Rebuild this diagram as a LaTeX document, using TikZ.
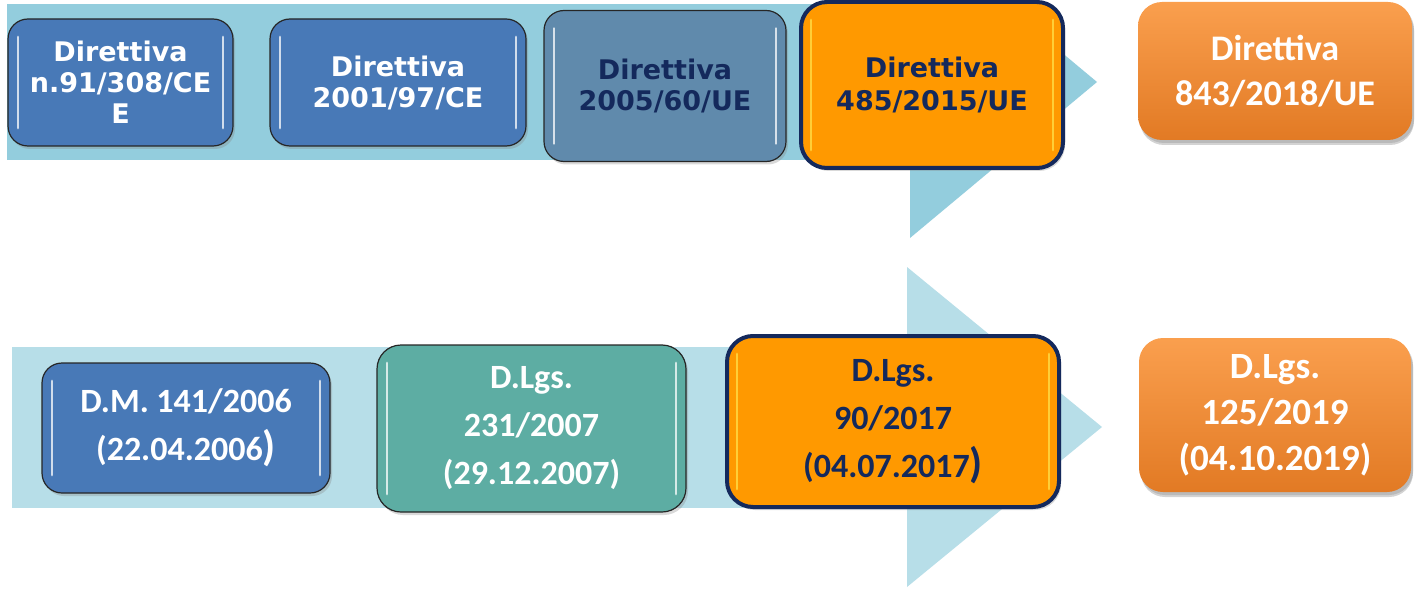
\documentclass[tikz,border=0pt]{standalone}
\usepackage{fontspec}
\usepackage{xcolor}
\usepackage{tikz}
\usetikzlibrary{shadows, positioning}

\newfontfamily\verdfont{DejaVu Sans}
\newfontfamily\calfont{Carlito}
\newcommand{\dirfont}{\verdfont\bfseries\fontsize{13.5}{15.5}\selectfont}
\newcommand{\bigdirfont}{\calfont\bfseries\fontsize{18}{22.5}\selectfont}
\newcommand{\lgsfont}{\calfont\bfseries\fontsize{17}{24}\selectfont}
\newcommand{\biglgsfont}{\calfont\bfseries\fontsize{18.5}{23}\selectfont}
\newcommand{\bigpar}{{\fontsize{21}{21}\selectfont)}}

\definecolor{bandtop}{HTML}{93CDDD}
\definecolor{bandbot}{HTML}{B7DEE8}
\definecolor{blu}{HTML}{4879B7}
\definecolor{grigioblu}{HTML}{608AAC}
\definecolor{arancio}{HTML}{FF9900}
\definecolor{navy}{HTML}{14295C}
\definecolor{verdeacqua}{HTML}{5DADA3}
\definecolor{aranciochiaro}{HTML}{FA9F4E}
\definecolor{arancioscuro}{HTML}{E27A24}
\definecolor{giallo}{HTML}{FFE04A}

\begin{document}
\begin{tikzpicture}[x=0.5pt, y=-0.5pt,
    box/.style={rounded corners=10pt, draw=black!85, line width=0.6pt,
        align=center, inner sep=0pt,
        drop shadow={opacity=.3, shadow xshift=1pt, shadow yshift=-1.5pt}},
    gloss/.style={path picture={
        \draw[#1, line width=1.4pt, line cap=round, opacity=.75]
            ([xshift=5pt, yshift=-9pt]path picture bounding box.north west) --
            ([xshift=5pt, yshift=9pt]path picture bounding box.south west);
        \draw[#1, line width=1.4pt, line cap=round, opacity=.75]
            ([xshift=-5pt, yshift=-9pt]path picture bounding box.north east) --
            ([xshift=-5pt, yshift=9pt]path picture bounding box.south east);}},
    evidenza/.style={box, fill=arancio, draw=navy, line width=2pt,
        rounded corners=13pt, text=navy, gloss=giallo},
    finale/.style={box, draw=none, rounded corners=12pt, text=white,
        top color=aranciochiaro, bottom color=arancioscuro,
        drop shadow={opacity=.35, shadow xshift=1pt, shadow yshift=-2.5pt}}]

    \useasboundingbox (0,0) rectangle (1416,588);
    \clip (0,0) rectangle (1416,588);

    % 1. Frecce di sfondo
    \fill[bandtop] (7,4) rectangle (910,160);
    \fill[bandtop] (910,-74) -- (1097,82) -- (910,238) -- cycle;
    \fill[bandbot] (12,347) rectangle (907,508);
    \fill[bandbot] (907,267) -- (1102,427) -- (907,587) -- cycle;

    % 2. Direttive europee (riga in alto)
    \node[box, fill=blu, text=white, gloss=white, font=\dirfont,
        minimum width=112.5pt, minimum height=63.5pt] (dir91) at (120.5,82.5)
        {Direttiva\\n.91/308/CE\\E};
    \node[box, fill=blu, text=white, gloss=white, font=\dirfont,
        minimum width=128pt, minimum height=63.5pt] (dir2001) at (398,82.5)
        {Direttiva\\2001/97/CE};
    \node[box, fill=grigioblu, text=navy, gloss=white, font=\dirfont,
        minimum width=121pt, minimum height=75.5pt] (dir2005) at (665,86)
        {Direttiva\\2005/60/UE};
    \node[evidenza, font=\dirfont, align=center,
        minimum width=131pt, minimum height=83pt] (dir2015) at (932,85)
        {Direttiva\\[1pt]485/2015/UE};
    \node[finale, font=\bigdirfont,
        minimum width=137pt, minimum height=69pt] (dir2018) at (1275,71)
        {Direttiva\\843/2018/UE};

    % 3. Recepimento nazionale (riga in basso)
    \node[box, fill=blu, text=white, gloss=white, font=\lgsfont,
        minimum width=144pt, minimum height=65pt] (dm2006) at (186,428)
        {D.M. 141/2006\\(22.04.2006\bigpar};
    \node[box, fill=verdeacqua, text=white, gloss=white, font=\lgsfont,
        rounded corners=12pt,
        minimum width=154.5pt, minimum height=83.5pt] (lgs2007) at (531.5,428.5)
        {D.Lgs.\\231/2007\\(29.12.2007)};
    \node[evidenza, font=\lgsfont,
        minimum width=166pt, minimum height=85.5pt] (lgs2017) at (893,421.5)
        {D.Lgs.\\90/2017\\(04.07.2017\bigpar};
    \node[finale, font=\biglgsfont,
        minimum width=136pt, minimum height=77pt] (lgs2019) at (1275,415)
        {D.Lgs.\\125/2019\\(04.10.2019)};

\end{tikzpicture}
\end{document}
